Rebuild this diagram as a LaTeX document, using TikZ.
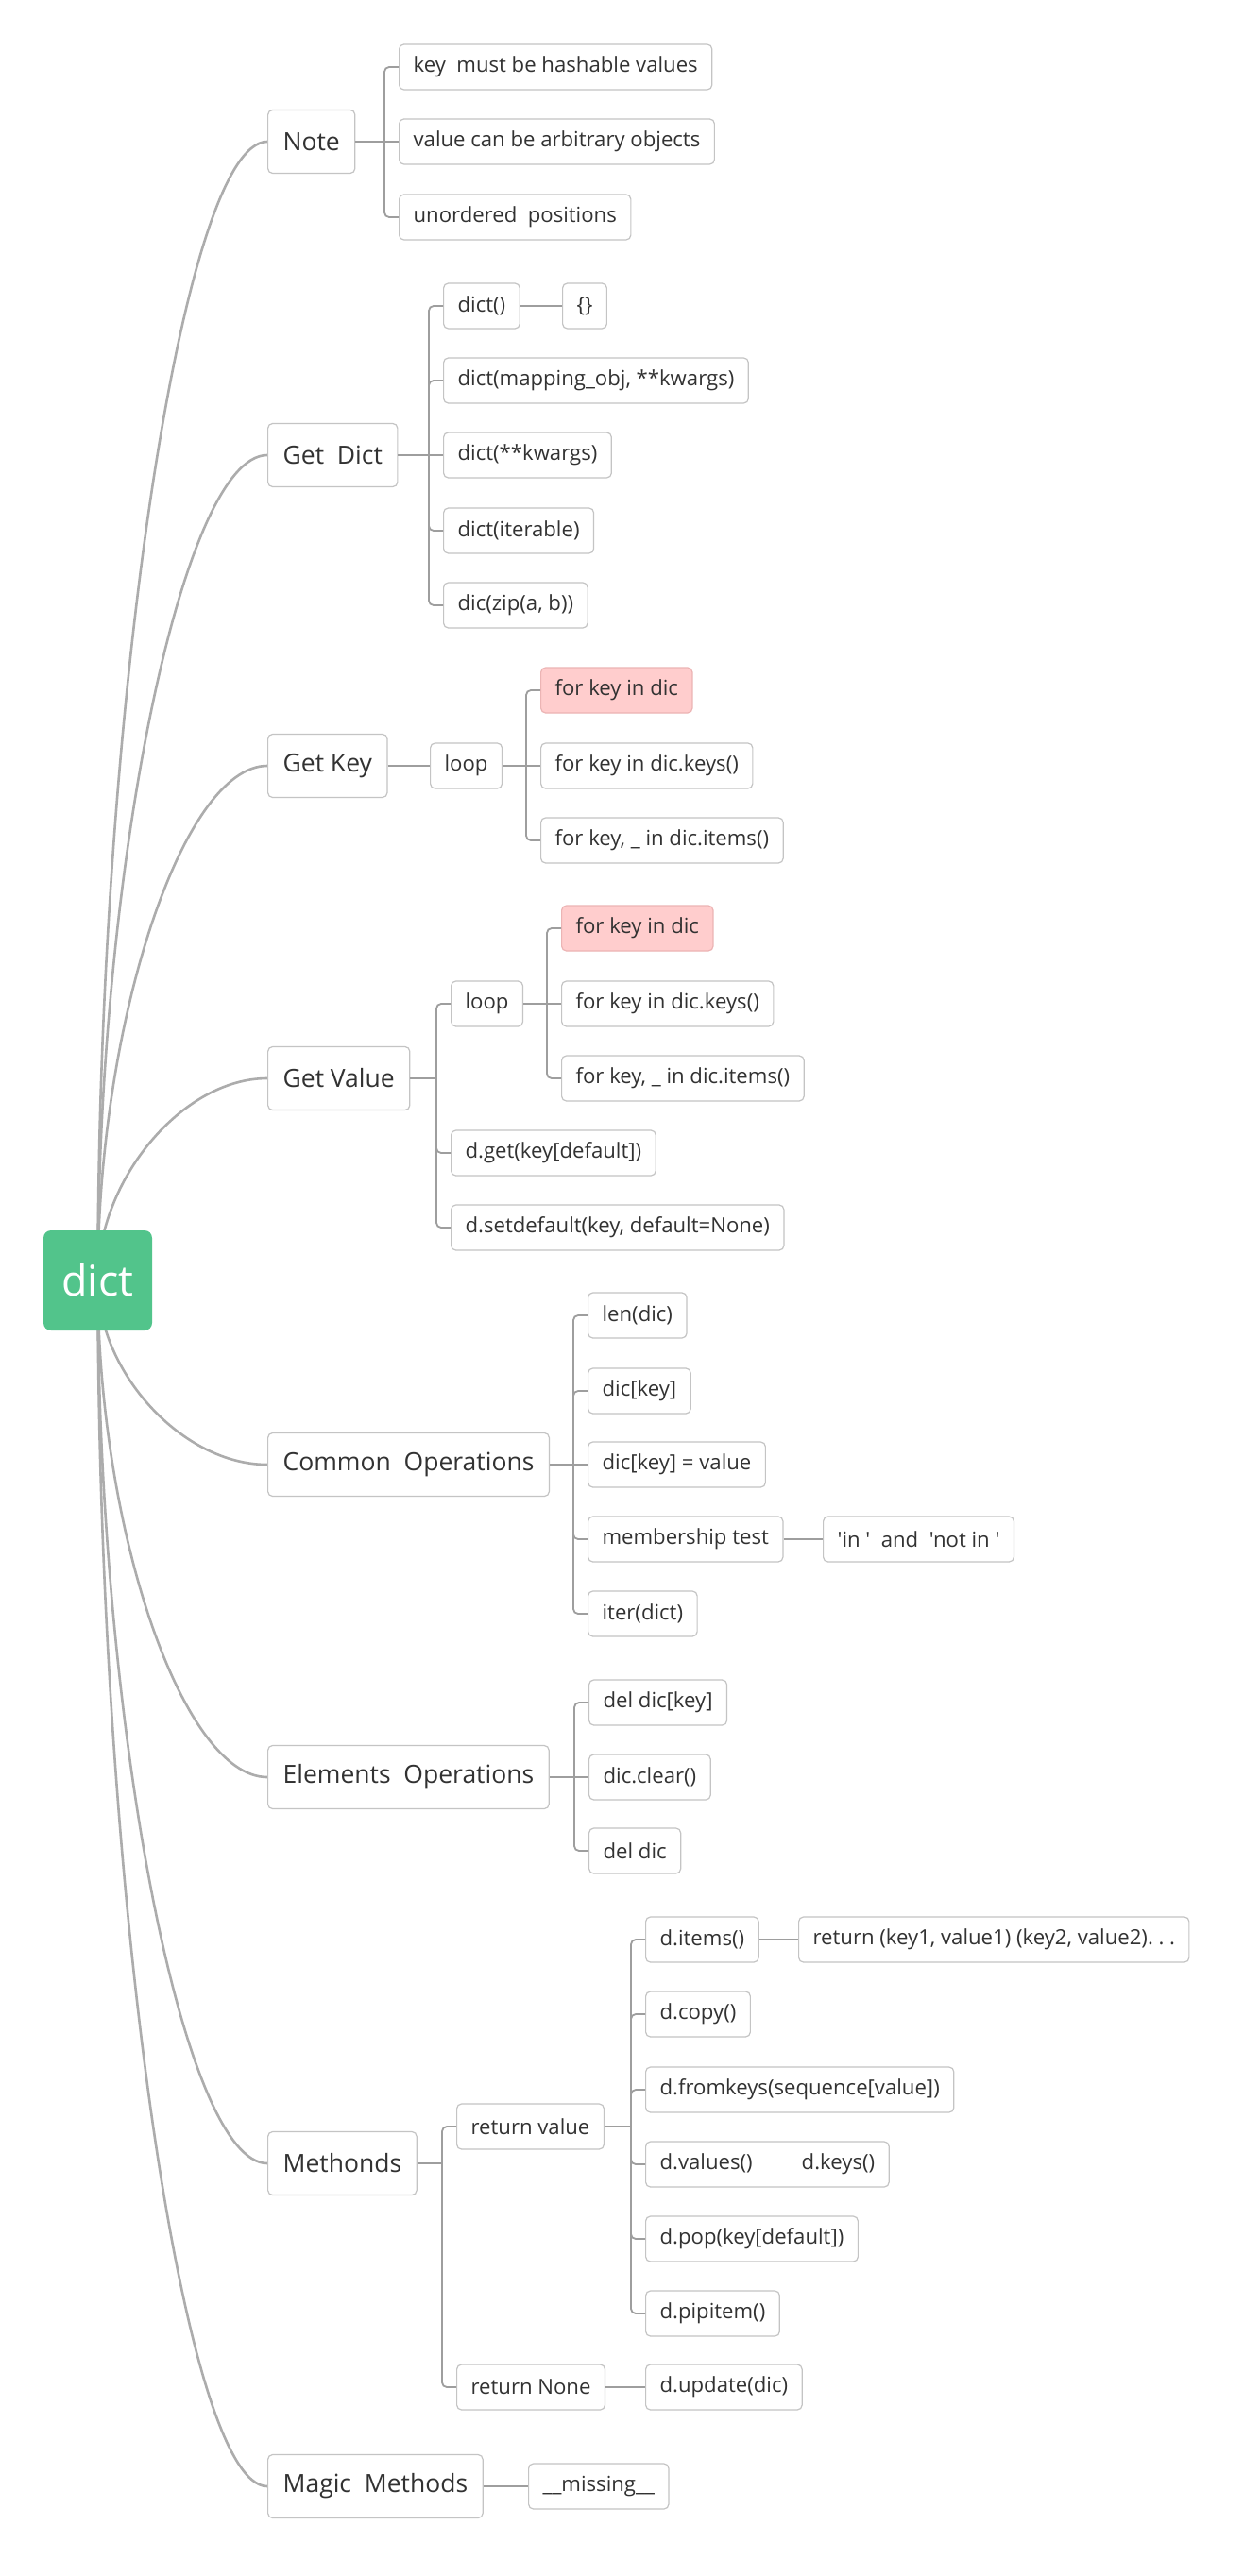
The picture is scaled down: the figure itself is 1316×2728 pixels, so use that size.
\documentclass[tikz,border=0pt]{standalone}
\usepackage{fontspec}
\setmainfont{Open Sans}[Ligatures=TeXOff]
\usetikzlibrary{calc,backgrounds}
\definecolor{rootgreen}{RGB}{82,196,139}
\definecolor{boxline}{RGB}{196,196,196}
\definecolor{linkgray}{RGB}{158,158,158}
\definecolor{trunkgray}{RGB}{172,172,172}
\definecolor{inkgray}{RGB}{50,50,50}
\definecolor{hotpink}{RGB}{255,205,205}
\definecolor{hotline}{RGB}{236,180,180}
\tikzset{
  root/.style={fill=rootgreen, text=white, rounded corners=4pt, minimum width=57.5pt, minimum height=53pt, font=\fontsize{22.4pt}{26pt}\selectfont},
  topic/.style={draw=boxline, fill=white, line width=0.6pt, rounded corners=2.5pt, text=inkgray, anchor=west, minimum height=33.5pt, inner xsep=8pt, font=\fontsize{13.25pt}{16pt}\selectfont},
  leaf/.style={topic, minimum height=24pt, inner xsep=7.5pt, font=\fontsize{11.07pt}{13pt}\selectfont},
  hot/.style={leaf, fill=hotpink, draw=hotline},
  trunk/.style={draw=trunkgray, line width=1.3pt},
  branch/.style={draw=linkgray, line width=0.9pt, rounded corners=2.5pt},
}
\begin{document}
\begin{tikzpicture}[x=0.5pt, y=-0.5pt]
            \node[root] (dict) at (103.5,1356) {dict};
            \node[topic] (note) at (283,150) {Note};
            \node[topic] (getdict) at (283,482) {Get\ \ Dict};
            \node[topic] (getkey) at (283,811) {Get Key};
            \node[topic] (getvalue) at (283,1142) {Get Value};
            \node[topic] (common) at (283,1551) {Common\ \ Operations};
            \node[topic] (elements) at (283,1882) {Elements\ \ Operations};
            \node[topic] (methods) at (283,2291) {Methonds};
            \node[topic] (magic) at (283,2633) {Magic\ \ Methods};
            % Note
            \node[leaf] (nt1) at (422,71) {key\ \ must be hashable values};
            \node[leaf] (nt2) at (422,150) {value can be arbitrary objects};
            \node[leaf] (nt3) at (422,230) {unordered\ \ positions};
            % Get Dict
            \node[leaf] (gd1) at (469,324) {dict()};
            \node[leaf] (gd2) at (469,403) {dict(mapping\_obj, **kwargs)};
            \node[leaf] (gd3) at (469,482) {dict(**kwargs)};
            \node[leaf] (gd4) at (469,562) {dict(iterable)};
            \node[leaf] (gd5) at (469,641) {dic(zip(a, b))};
            \node[leaf] (gdempty) at (595,324) {\{\}};
            % Get Key
            \node[leaf] (gkloop) at (455,811) {loop};
            \node[hot] (gk1) at (572,731) {for key in dic};
            \node[leaf] (gk2) at (572,811) {for key in dic.keys()};
            \node[leaf] (gk3) at (572,890) {for key, \_ in dic.items()};
            % Get Value
            \node[leaf] (gvloop) at (477,1063) {loop};
            \node[leaf] (gvget) at (477,1221) {d.get(key[default])};
            \node[leaf] (gvset) at (477,1300) {d.setdefault(key, default=None)};
            \node[hot] (gv1) at (594,983) {for key in dic};
            \node[leaf] (gv2) at (594,1063) {for key in dic.keys()};
            \node[leaf] (gv3) at (594,1142) {for key, \_ in dic.items()};
            % Common Operations
            \node[leaf] (co1) at (622,1393) {len(dic)};
            \node[leaf] (co2) at (622,1473) {dic[key]};
            \node[leaf] (co3) at (622,1551) {dic[key] = value};
            \node[leaf] (co4) at (622,1630) {membership test};
            \node[leaf] (co5) at (622,1709) {iter(dict)};
            \node[leaf] (coin) at (871,1630) {'in '\ \ and\ \ 'not in '};
            % Elements Operations
            \node[leaf] (el1) at (623,1803) {del dic[key]};
            \node[leaf] (el2) at (623,1882) {dic.clear()};
            \node[leaf] (el3) at (623,1960) {del dic};
            % Methonds
            \node[leaf] (mrv) at (483,2252) {return value};
            \node[leaf] (mrn) at (483,2528) {return None};
            \node[leaf] (mv1) at (683,2054) {d.items()};
            \node[leaf] (mv2) at (683,2133) {d.copy()};
            \node[leaf] (mv3) at (683,2213) {d.fromkeys(sequence[value])};
            \node[leaf] (mv4) at (683,2292) {d.values()\hspace{26pt}d.keys()};
            \node[leaf] (mv5) at (683,2371) {d.pop(key[default])};
            \node[leaf] (mv6) at (683,2450) {d.pipitem()};
            \node[leaf] (mvret) at (845,2054) {return (key1, value1) (key2, value2).\kern2.8pt.\kern2.8pt.};
            \node[leaf] (mnupd) at (683,2528) {d.update(dic)};
            % Magic Methods
            \node[leaf] (mgmiss) at (559,2633) {\_\_missing\_\_};

            % junctions
            \coordinate (jnote) at ($(nt1.west |- note.east)+(-15,0)$);
            \coordinate (jgd) at ($(gd1.west |- getdict.east)+(-15,0)$);
            \coordinate (jgk) at ($(gk1.west |- gkloop.east)+(-15,0)$);
            \coordinate (jgv) at ($(gvloop.west |- getvalue.east)+(-15,0)$);
            \coordinate (jgvl) at ($(gv1.west |- gvloop.east)+(-15,0)$);
            \coordinate (jco) at ($(co1.west |- common.east)+(-15,0)$);
            \coordinate (jel) at ($(el1.west |- elements.east)+(-15,0)$);
            \coordinate (jme) at ($(mrv.west |- methods.east)+(-15,0)$);
            \coordinate (jmrv) at ($(mv1.west |- mrv.east)+(-15,0)$);

            \draw[branch] (note.east) -- (jnote) -- (nt2.west);
            \foreach \c in {nt1,nt3} \draw[branch] (jnote) |- (\c.west);
            \draw[branch] (getdict.east) -- (jgd) -- (gd3.west);
            \foreach \c in {gd1,gd2,gd4,gd5} \draw[branch] (jgd) |- (\c.west);
            \draw[branch] (gd1.east) -- (gdempty.west);
            \draw[branch] (getkey.east) -- (gkloop.west);
            \draw[branch] (gkloop.east) -- (jgk) -- (gk2.west);
            \foreach \c in {gk1,gk3} \draw[branch] (jgk) |- (\c.west);
            \draw[branch] (getvalue.east) -- (jgv);
            \foreach \c in {gvloop,gvget,gvset} \draw[branch] (jgv) |- (\c.west);
            \draw[branch] (gvloop.east) -- (jgvl) -- (gv2.west);
            \foreach \c in {gv1,gv3} \draw[branch] (jgvl) |- (\c.west);
            \draw[branch] (common.east) -- (jco) -- (co3.west);
            \foreach \c in {co1,co2,co4,co5} \draw[branch] (jco) |- (\c.west);
            \draw[branch] (co4.east) -- (coin.west);
            \draw[branch] (elements.east) -- (jel) -- (el2.west);
            \foreach \c in {el1,el3} \draw[branch] (jel) |- (\c.west);
            \draw[branch] (methods.east) -- (jme);
            \foreach \c in {mrv,mrn} \draw[branch] (jme) |- (\c.west);
            \draw[branch] (mrv.east) -- (jmrv);
            \foreach \c in {mv1,mv2,mv3,mv4,mv5,mv6} \draw[branch] (jmrv) |- (\c.west);
            \draw[branch] (mv1.east) -- (mvret.west);
            \draw[branch] (mrn.east) -- (mnupd.west);
            \draw[branch] (magic.east) -- (mgmiss.west);

            \begin{pgfonlayer}{background}
            \fill[white] (0,0) rectangle (1316,2728);
            \foreach \t in {note,getdict,getkey,getvalue,common,elements,methods,magic}
              \draw[trunk] (dict.center) .. controls ($(dict.center)!0.5!(dict.center |- \t.west)$) and ($(\t.west)!0.5!(dict.center |- \t.west)$) .. (\t.west);
            \end{pgfonlayer}
            \end{tikzpicture}
\end{document}
